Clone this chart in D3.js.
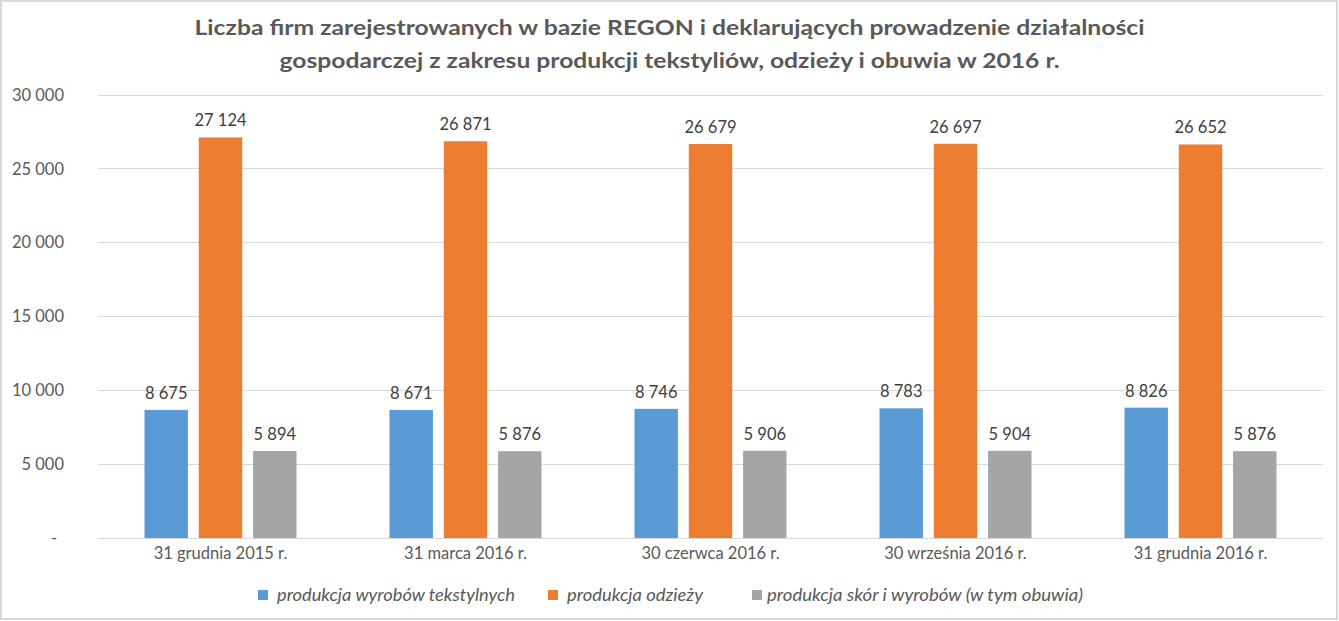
<!DOCTYPE html>
<html><head><meta charset="utf-8">
<script src="https://cdn.jsdelivr.net/npm/d3@7"></script>
<style>body{margin:0;background:#fff}svg{display:block}</style>
</head><body>
<svg id="c" width="1339" height="621"></svg>
<script>
const categories = ["31 grudnia 2015 r.", "31 marca 2016 r.", "30 czerwca 2016 r.", "30 września 2016 r.", "31 grudnia 2016 r."];
const seriesNames = ["produkcja wyrobów tekstylnych", "produkcja odzieży", "produkcja skór i wyrobów (w tym obuwia)"];
const textiles = [8675, 8671, 8746, 8783, 8826];
const clothing = [27124, 26871, 26679, 26697, 26652];
const leather = [5894, 5876, 5906, 5904, 5876];
const yTicks = [0, 5000, 10000, 15000, 20000, 25000, 30000];
const titleLines = ["Liczba firm zarejestrowanych w bazie REGON i deklarujących prowadzenie działalności", "gospodarczej z zakresu produkcji tekstyliów, odzieży i obuwia w 2016 r."];
const colors = ["#5b9bd5", "#ed7d31", "#a5a5a5"];
const series = [textiles, clothing, leather];

const svg = d3.select("#c");
const font = "Lato, 'Open Sans', sans-serif";
svg.append("rect").attr("x",1).attr("y",1).attr("width",1336).attr("height",618)
  .attr("fill","#fff").attr("stroke","#d9d9d9").attr("stroke-width",2);

const x0 = d3.scaleBand().domain(categories).range([98, 1323]).paddingInner(0).paddingOuter(0);
const y = d3.scaleLinear().domain([0, 30000]).range([538, 95]);
const x1 = d3.scaleBand().domain(d3.range(3)).range([46.5, 245-46.5]).paddingInner(0.2).paddingOuter(0);

svg.append("g").selectAll("line").data(yTicks).join("line")
  .attr("x1",98).attr("x2",1323).attr("y1",d=>y(d)).attr("y2",d=>y(d))
  .attr("stroke","#d9d9d9").attr("stroke-width",1).attr("shape-rendering","crispEdges");

const fmt = v => v === 0 ? "-" : d3.format(",")(v).replace(/,/g, " ");
const yAxis = d3.axisLeft(y).tickValues(yTicks).tickFormat(fmt).tickSize(0).tickPadding(0);
const ga = svg.append("g").attr("transform","translate(64,0)").call(yAxis);
ga.select(".domain").remove();
ga.selectAll("text").attr("font-family",font).attr("font-size",16.5).attr("fill","#595959")
  .attr("text-anchor", d => d===0 ? "middle" : "end").attr("dx", d => d===0 ? -10 : 0);

const xAxis = d3.axisBottom(x0).tickSize(0).tickPadding(9);
const gx = svg.append("g").attr("transform","translate(0,538)").call(xAxis);
gx.select(".domain").remove();
gx.selectAll("text").attr("font-family",font).attr("font-size",16.5).attr("fill","#595959");

const groups = svg.append("g").selectAll("g").data(categories).join("g")
  .attr("transform", c => `translate(${x0(c)},0)`);
series.forEach((s, si) => {
  groups.append("rect")
    .attr("x", x1(si)).attr("width", x1.bandwidth())
    .attr("y", (c,i) => y(s[i])).attr("height", (c,i) => y(0) - y(s[i]))
    .attr("fill", colors[si]);
  groups.append("text")
    .attr("x", x1(si) + x1.bandwidth()/2).attr("y", (c,i) => y(s[i]) - 11)
    .attr("text-anchor","middle").attr("font-family",font).attr("font-size",16.5).attr("fill","#404040")
    .text((c,i) => fmt(s[i]));
});

svg.append("g").selectAll("text").data(titleLines).join("text")
  .attr("x", 669.5).attr("y", (d,i) => 35 + i*33)
  .attr("text-anchor","middle").attr("font-family",font).attr("font-weight","bold")
  .attr("font-size",21).attr("fill","#595959")
  .attr("textLength",(d,i)=> i===0 ? 950 : 780).attr("lengthAdjust","spacingAndGlyphs")
  .text(d=>d);

const legX = [258, 548, 752];
const legLen = [238, 136, 316];
const lg = svg.append("g").selectAll("g").data(seriesNames).join("g")
  .attr("transform",(d,i)=>`translate(${legX[i]},592)`);
lg.append("rect").attr("x",0).attr("y",-2).attr("width",10).attr("height",10).attr("fill",(d,i)=>colors[i]);
lg.append("text").attr("x",(d,i)=> i===2 ? 15 : 19).attr("y",9).attr("font-family",font).attr("font-style","italic")
  .attr("font-size",16.5).attr("fill","#595959")
  .attr("textLength",(d,i)=>legLen[i]).attr("lengthAdjust","spacingAndGlyphs")
  .text(d=>d);
</script>
</body></html>
